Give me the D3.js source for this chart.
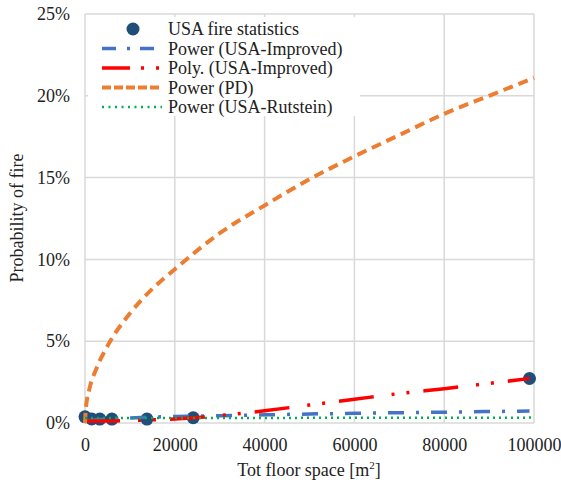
<!DOCTYPE html>
<html>
<head>
<meta charset="utf-8">
<script src="https://cdn.jsdelivr.net/npm/d3@7"></script>
<style>
  body { margin: 0; background: #fff; }
</style>
</head>
<body>
<script>
const WIDTH = 561
const HEIGHT = 484
const FONT = '"Liberation Serif", "Times New Roman", serif'

// USA fire statistics (floor space m2, probability %)
const fireX = [0, 1500, 3300, 6000, 13800, 24100, 99000]
const fireY = [0.38, 0.25, 0.24, 0.24, 0.24, 0.32, 2.72]

// Trendlines (x in m2, y in %)
const pdX = [0, 200, 1000, 2500, 5000, 10000, 15000, 20000, 30000, 40000, 50000, 60000, 70000, 80000, 90000, 100000]
const pdY = [0, 0.9, 2.1, 3.3, 4.7, 6.7, 8.2, 9.4, 11.6, 13.3, 14.9, 16.3, 17.6, 18.9, 20.0, 21.1]

const impX = [500, 1000, 2500, 5000, 10000, 20000, 30000, 40000, 50000, 60000, 70000, 80000, 90000, 99000]
const impY = [0.12, 0.15, 0.2, 0.25, 0.31, 0.4, 0.45, 0.5, 0.55, 0.59, 0.63, 0.66, 0.7, 0.73]

const polyX = [0, 5000, 10000, 20000, 30000, 40000, 50000, 60000, 70000, 80000, 90000, 99000]
const polyY = [0.12, 0.12, 0.15, 0.25, 0.45, 0.75, 1.1, 1.45, 1.8, 2.1, 2.42, 2.72]

const rutX = [0, 20000, 40000, 60000, 80000, 100000]
const rutY = [0.3, 0.31, 0.31, 0.32, 0.32, 0.33]

const xTicks = [0, 20000, 40000, 60000, 80000, 100000]
const yTicks = [0, 5, 10, 15, 20, 25]

const svg = d3.select('body')
    .append('svg')
    .attr('width', WIDTH)
    .attr('height', HEIGHT)

const x = d3.scaleLinear().domain([0, 100000]).range([85, 534])
const y = d3.scaleLinear().domain([0, 25]).range([423, 14])

// grid
svg.append('g')
    .selectAll('line')
    .data(xTicks)
    .enter()
    .append('line')
    .attr('x1', d => x(d)).attr('x2', d => x(d))
    .attr('y1', y(25)).attr('y2', y(0))
    .attr('stroke', '#d9d9d9')
    .attr('stroke-width', 1.5)

svg.append('g')
    .selectAll('line')
    .data(yTicks)
    .enter()
    .append('line')
    .attr('x1', x(0)).attr('x2', x(100000))
    .attr('y1', d => y(d)).attr('y2', d => y(d))
    .attr('stroke', '#d9d9d9')
    .attr('stroke-width', 1.5)

// axes
const xAxis = svg.append('g')
    .attr('transform', `translate(0, ${y(0)})`)
    .call(d3.axisBottom(x).tickValues(xTicks).tickSize(0).tickPadding(15).tickFormat(d => `${d}`))
xAxis.select('.domain').remove()

const yAxis = svg.append('g')
    .attr('transform', `translate(${x(0) - 15}, 0)`)
    .call(d3.axisLeft(y).tickValues(yTicks).tickSize(0).tickPadding(0).tickFormat(d => `${d}%`))
yAxis.select('.domain').remove()

// points
svg.append('g')
    .selectAll('circle')
    .data(fireX.map((d, i) => [d, fireY[i]]))
    .enter()
    .append('circle')
    .attr('cx', d => x(d[0]))
    .attr('cy', d => y(d[1]))
    .attr('r', 6.5)
    .attr('fill', '#1f4e79')

// trendlines
const line = d3.line().x(d => x(d[0])).y(d => y(d[1])).curve(d3.curveMonotoneX)
const zip = (a, b) => a.map((d, i) => [d, b[i]])

const styles = [
    { name: 'Power (USA-Improved)', xs: impX, ys: impY, color: '#4472c4', w: 3.5, dash: '16,12,3,12', legDash: '14,11,3,10' },
    { name: 'Poly. (USA-Improved)', xs: polyX, ys: polyY, color: '#ff0000', w: 3.5, dash: '35,18,3,12,3,14', legDash: '28,11,3,12,3,12' },
    { name: 'Power (PD)', xs: pdX, ys: pdY, color: '#ed7d31', w: 4, dash: '10,6', legDash: '9,3' },
    { name: 'Power (USA-Rutstein)', xs: rutX, ys: rutY, color: '#00b050', w: 2.5, dash: '2,4', legDash: '2,4.5' }
]

svg.append('g')
    .selectAll('path')
    .data(styles)
    .enter()
    .append('path')
    .attr('d', d => line(zip(d.xs, d.ys)))
    .attr('fill', 'none')
    .attr('stroke', d => d.color)
    .attr('stroke-width', d => d.w)
    .attr('stroke-dasharray', d => d.dash)

// legend
const legend = svg.append('g')
legend.append('rect')
    .attr('x', 88).attr('y', 17).attr('width', 272).attr('height', 99)
    .attr('fill', '#fff')

const rowY = [29, 48.5, 68, 87.5, 107]
legend.append('circle').attr('cx', 133).attr('cy', rowY[0]).attr('r', 6.5).attr('fill', '#1f4e79')
legend.append('text').attr('x', 168).attr('y', rowY[0] + 6).text('USA fire statistics')

styles.forEach((s, i) => {
    legend.append('line')
        .attr('x1', 102).attr('x2', 162)
        .attr('y1', rowY[i + 1]).attr('y2', rowY[i + 1])
        .attr('stroke', s.color)
        .attr('stroke-width', s.w)
        .attr('stroke-dasharray', s.legDash)
    legend.append('text')
        .attr('x', 168).attr('y', rowY[i + 1] + 6)
        .text(s.name)
})

// axis titles
const xt = svg.append('text')
    .attr('x', 309).attr('y', 476)
    .attr('text-anchor', 'middle')
xt.append('tspan').text('Tot floor space [m')
xt.append('tspan').attr('dy', -7).style('font-size', '11px').text('2')
xt.append('tspan').attr('dy', 7).text(']')

svg.append('text')
    .attr('transform', 'translate(23, 218) rotate(-90)')
    .attr('text-anchor', 'middle')
    .text('Probability of fire')

svg.selectAll('text')
    .attr('font-family', FONT)
    .style('font-family', FONT)
    .attr('fill', '#222')
svg.selectAll('text:not(tspan)').style('font-size', '18px')
xt.selectAll('tspan').filter((d, i) => i !== 1).style('font-size', '18px')
</script>
</body>
</html>
